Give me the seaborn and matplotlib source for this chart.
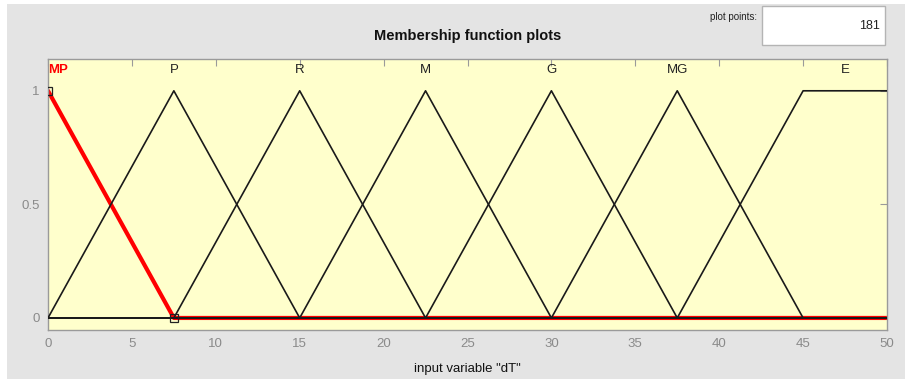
import matplotlib
matplotlib.use("Agg")
import matplotlib.pyplot as plt
from matplotlib.patches import Rectangle
import pandas as pd
import seaborn as sns

# Membership functions of input variable "dT": vertices of each piecewise-linear curve
mf_names = ["MP", "P", "R", "M", "G", "MG", "E"]
mf_x = [
    [-7.5, 0, 7.5, 50],
    [0, 7.5, 15, 50],
    [0, 7.5, 15, 22.5, 50],
    [0, 15, 22.5, 30, 50],
    [0, 22.5, 30, 37.5, 50],
    [0, 30, 37.5, 45, 50],
    [0, 37.5, 45, 50],
]
mf_y = [
    [0, 1, 0, 0],
    [0, 1, 0, 0],
    [0, 0, 1, 0, 0],
    [0, 0, 1, 0, 0],
    [0, 0, 1, 0, 0],
    [0, 0, 1, 0, 0],
    [0, 0, 1, 1],
]
label_x = [0, 7.5, 15, 22.5, 30, 37.5, 47.5]
selected = "MP"
handle_x = [-7.5, 0, 7.5]
handle_y = [0, 1, 0]

x_ticks = [0, 5, 10, 15, 20, 25, 30, 35, 40, 45, 50]
y_ticks = [0, 0.5, 1]
y_tick_labels = ["0", "0.5", "1"]
plot_points = "181"

sns.set_theme(style="white")
plt.rcParams["font.family"] = ["Liberation Sans", "DejaVu Sans"]

bg = "#e4e4e4"
fig = plt.figure(figsize=(9.05, 3.82), dpi=100, facecolor="white")
fig.patches.append(Rectangle((7 / 905, 3 / 382), 1 - 7 / 905, 1 - 7 / 382,
                             transform=fig.transFigure, facecolor=bg,
                             edgecolor="none", zorder=-10))
ax = fig.add_axes([48 / 905, 1 - 330 / 382, 839 / 905, 271 / 382])
ax.set_facecolor("#ffffcc")

frames = []
for name, xs, ys in zip(mf_names, mf_x, mf_y):
    frames.append(pd.DataFrame({"x": xs, "y": ys, "mf": name}))
df = pd.concat(frames, ignore_index=True)

# selected function drawn thick in red underneath the others
sel = df[df["mf"] == selected]
sns.lineplot(data=sel, x="x", y="y", sort=False, estimator=None, ax=ax,
             color="#ff0000", linewidth=3.0, zorder=2)
for name in mf_names:
    sub = df[df["mf"] == name]
    if name == selected:
        sns.lineplot(data=sub.iloc[2:], x="x", y="y", sort=False, estimator=None,
                     ax=ax, color="#1a1a1a", linewidth=1.2, zorder=3)
    else:
        sns.lineplot(data=sub, x="x", y="y", sort=False, estimator=None, ax=ax,
                     color="#1a1a1a", linewidth=1.2, zorder=3)

ax.plot(handle_x, handle_y, linestyle="none", marker="s", markersize=6,
        markerfacecolor="none", markeredgecolor="#222222", markeredgewidth=0.9,
        zorder=4)

for name, lx in zip(mf_names, label_x):
    if name == selected:
        ax.text(lx, 1.09, name, ha="left", va="center", color="#ff0000",
                fontsize=9.5, fontweight="bold")
    else:
        ax.text(lx, 1.09, name, ha="center", va="center", color="#222222",
                fontsize=9.5)

ax.set_xlim(0, 50)
ax.set_ylim(-0.053, 1.14)
ax.set_xticks(x_ticks)
ax.set_xticklabels([str(t) for t in x_ticks])
ax.set_yticks(y_ticks)
ax.set_yticklabels(y_tick_labels)
ax.tick_params(direction="in", top=True, right=True, length=5, width=0.8,
               color="#9a9a9a", labelcolor="#8a8a8a", labelsize=9.5)
ax.tick_params(axis="x", pad=6)
ax.tick_params(axis="y", pad=6)
for s in ax.spines.values():
    s.set_color("#9a9a9a")
    s.set_linewidth(1.0)

ax.set_xlabel('input variable "dT"', fontsize=9.5, color="#111111", labelpad=9)
ax.set_ylabel("")
ax.set_title("Membership function plots", fontsize=10.5, fontweight="bold",
             color="#111111", pad=14)

fig.text(733 / 905, 1 - 17 / 382, "plot points:", fontsize=7, ha="center",
         va="center", color="#222222")
fig.patches.append(Rectangle((762 / 905, 1 - 45 / 382), 123 / 905, 39 / 382,
                             transform=fig.transFigure, facecolor="white",
                             edgecolor="#b4b4b4", linewidth=1.0, zorder=1))
fig.text(880 / 905, 1 - 26 / 382, plot_points, fontsize=9, ha="right",
         va="center", color="#222222", zorder=2)

fig.savefig("out.png", dpi=100, facecolor=fig.get_facecolor())
